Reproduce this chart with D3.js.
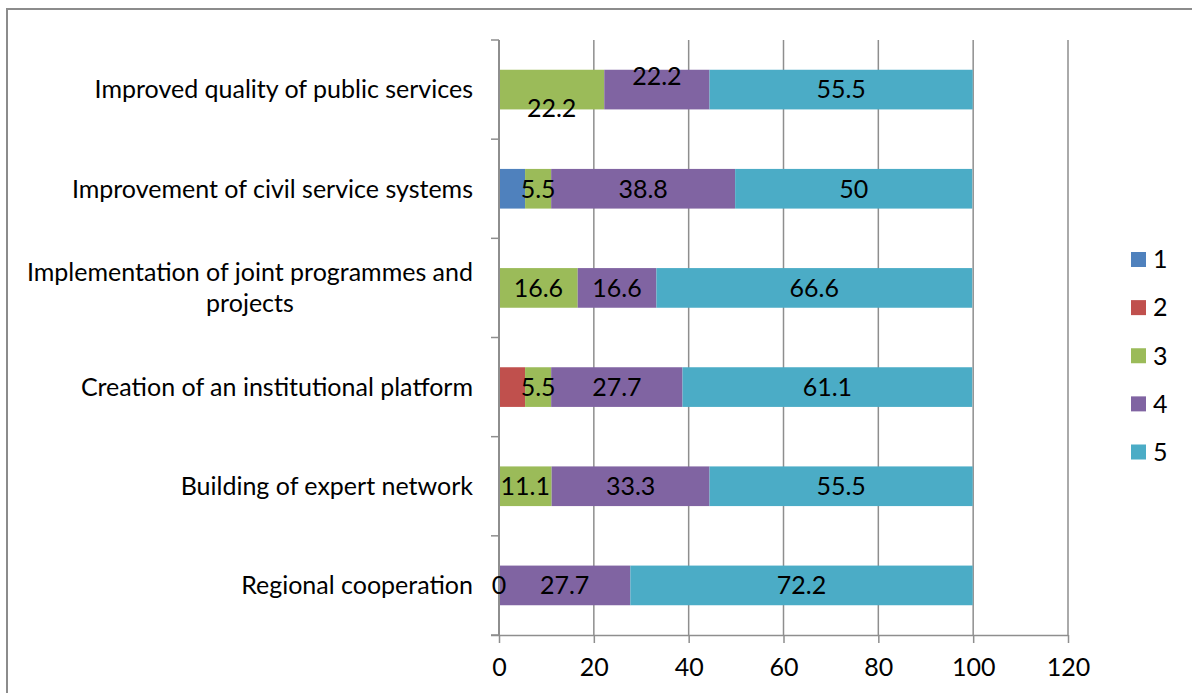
<!DOCTYPE html>
<html>
<head>
<meta charset="utf-8">
<script src="https://cdn.jsdelivr.net/npm/d3@7"></script>
<style>
  html, body { margin: 0; padding: 0; background: #fff; }
  svg { display: block; }
  text { font-family: Lato, "Open Sans", sans-serif; fill: #000; }
</style>
</head>
<body>
<svg id="chart" width="1192" height="693"></svg>
<script>
// Categories, top to bottom
const categories = [
  "Improved quality of public services",
  "Improvement of civil service systems",
  "Implementation of joint programmes and projects",
  "Creation of an institutional platform",
  "Building of expert network",
  "Regional cooperation"
];
// Share of answers per rating (percent)
const series1 = [0, 5.5, 0, 0, 0, 0];
const series2 = [0, 0, 0, 5.5, 0, 0];
const series3 = [22.2, 5.5, 16.6, 5.5, 11.1, 0];
const series4 = [22.2, 38.8, 16.6, 27.7, 33.3, 27.7];
const series5 = [55.5, 50, 66.6, 61.1, 55.5, 72.2];
const seriesKeys = ["1", "2", "3", "4", "5"];
const labelledKeys = ["3", "4", "5"];
const xTicks = [0, 20, 40, 60, 80, 100, 120];

const colors = {"1": "#4f81bd", "2": "#c0504d", "3": "#9bbb59", "4": "#8064a2", "5": "#4bacc6"};
const fontSize = 25;
const gridColor = "#8e8e8e";

const rows = categories.map((c, i) => ({
  category: c,
  "1": series1[i], "2": series2[i], "3": series3[i], "4": series4[i], "5": series5[i]
}));

const svg = d3.select("#chart");

// outer frame of the chart area
svg.append("rect")
  .attr("x", 7).attr("y", 9).attr("width", 1400).attr("height", 1000)
  .attr("fill", "none").attr("stroke", "#8c8c8c").attr("stroke-width", 2);

const plot = {left: 499, right: 1068, top: 40, bottom: 635};

const x = d3.scaleLinear().domain([0, 120]).range([plot.left, plot.right]);
const y = d3.scaleBand().domain(categories).range([plot.top, plot.bottom])
  .paddingInner(0.6).paddingOuter(0.3);

// vertical gridlines
svg.append("g").selectAll("line")
  .data(xTicks.filter(t => t > 0))
  .join("line")
  .attr("x1", d => x(d)).attr("x2", d => x(d))
  .attr("y1", plot.top).attr("y2", plot.bottom)
  .attr("stroke", gridColor).attr("stroke-width", 1.5);

// stacked bars
const stacked = d3.stack().keys(seriesKeys)(rows);
const layers = svg.append("g").selectAll("g")
  .data(stacked)
  .join("g")
  .attr("fill", d => colors[d.key]);

layers.selectAll("rect")
  .data(d => d.map(s => ({s, key: d.key})))
  .join("rect")
  .attr("x", d => x(d.s[0]))
  .attr("y", d => y(d.s.data.category))
  .attr("width", d => x(d.s[1]) - x(d.s[0]))
  .attr("height", y.bandwidth());

// category axis (left)
const step = y.step();
const bounds = d3.range(categories.length + 1).map(i => plot.top + i * step);
svg.append("line")
  .attr("x1", plot.left).attr("x2", plot.left)
  .attr("y1", plot.top).attr("y2", plot.bottom)
  .attr("stroke", gridColor).attr("stroke-width", 2);
svg.append("g").selectAll("line")
  .data(bounds)
  .join("line")
  .attr("x1", plot.left - 8).attr("x2", plot.left)
  .attr("y1", d => d).attr("y2", d => d)
  .attr("stroke", gridColor).attr("stroke-width", 1.5);

// value axis (bottom)
const xAxis = svg.append("g")
  .attr("transform", `translate(0,${plot.bottom})`)
  .call(d3.axisBottom(x).tickValues(xTicks).tickSize(8).tickPadding(15).tickSizeOuter(0));
xAxis.select(".domain").attr("stroke", gridColor).attr("stroke-width", 1.5)
  .attr("d", `M${plot.left - 8},0.5H${plot.right}`);
xAxis.selectAll(".tick line").attr("stroke", gridColor).attr("stroke-width", 1.5);
xAxis.selectAll(".tick text")
  .style("font-family", "Lato, 'Open Sans', sans-serif")
  .attr("font-size", fontSize).attr("fill", "#000");

// category labels, wrapped and centred on their own widest line
const labelRight = 473;
const maxLabelWidth = 460;
const catLabels = svg.append("g").attr("font-size", fontSize);
categories.forEach(cat => {
  const t = catLabels.append("text").attr("text-anchor", "middle");
  const words = cat.split(" ");
  const lines = [];
  let line = [];
  const probe = catLabels.append("text");
  words.forEach(w => {
    const trial = line.concat([w]).join(" ");
    probe.text(trial);
    if (probe.node().getComputedTextLength() > maxLabelWidth && line.length) {
      lines.push(line.join(" "));
      line = [w];
    } else {
      line.push(w);
    }
  });
  lines.push(line.join(" "));
  let widest = 0;
  lines.forEach(l => { probe.text(l); widest = Math.max(widest, probe.node().getComputedTextLength()); });
  probe.remove();
  const cx = labelRight - widest / 2;
  const lh = 31.5;
  const cy = y(cat) + y.bandwidth() / 2;
  lines.forEach((l, i) => {
    t.append("tspan")
      .attr("x", cx)
      .attr("y", cy + (i - (lines.length - 1) / 2) * lh)
      .attr("dy", "0.35em")
      .text(l);
  });
});

// data labels; the crowded top bar pushes two of them outside the bar
const labelShift = {"Improved quality of public services": {"3": 19, "4": -13}};
const labelData = [];
stacked.filter(l => labelledKeys.includes(l.key)).forEach(layer => {
  layer.forEach(s => {
    const v = s.data[layer.key];
    const shift = (labelShift[s.data.category] || {})[layer.key] || 0;
    labelData.push({
      value: v,
      cx: x((s[0] + s[1]) / 2),
      cy: y(s.data.category) + y.bandwidth() / 2 + shift
    });
  });
});
svg.append("g").attr("font-size", fontSize).attr("text-anchor", "middle")
  .selectAll("text")
  .data(labelData)
  .join("text")
  .attr("x", d => d.cx).attr("y", d => d.cy).attr("dy", "0.35em")
  .text(d => d3.format("")(d.value));

// legend
const legendY = d3.scalePoint().domain(seriesKeys).range([259.5, 452]);
const legend = svg.append("g").attr("font-size", fontSize);
const items = legend.selectAll("g").data(seriesKeys).join("g")
  .attr("transform", d => `translate(1131,${legendY(d)})`);
items.append("rect")
  .attr("x", 0).attr("y", -7.5).attr("width", 15).attr("height", 15)
  .attr("fill", d => colors[d]);
items.append("text")
  .attr("x", 22).attr("y", 0).attr("dy", "0.35em")
  .text(d => d);
</script>
</body>
</html>
